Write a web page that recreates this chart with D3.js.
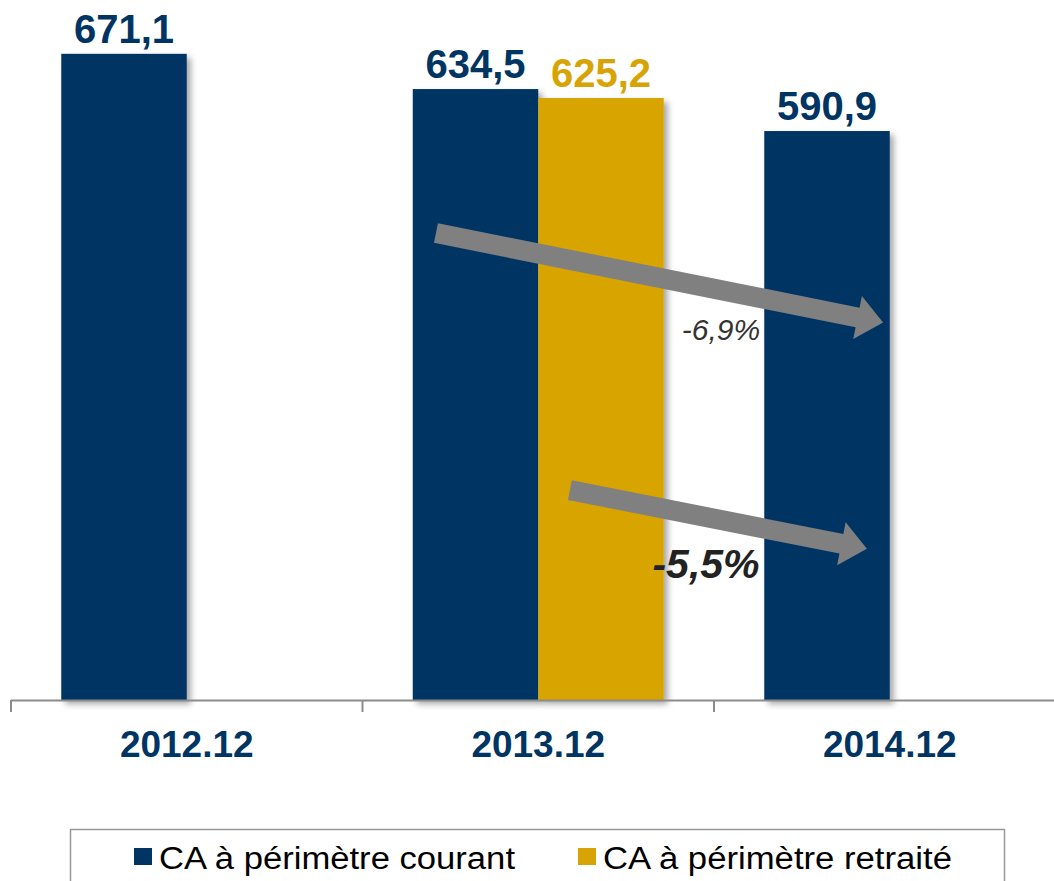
<!DOCTYPE html>
<html>
<head>
<meta charset="utf-8">
<script src="https://cdnjs.cloudflare.com/ajax/libs/d3/7.8.5/d3.min.js"></script>
<style>
  html, body { margin: 0; padding: 0; background: #fff; }
  svg { display: block; font-family: "Liberation Sans", Arial, sans-serif; }
</style>
</head>
<body>
<div id="chart"></div>
<script>
"use strict";

// data
var categories = ["2012.12", "2013.12", "2014.12"],
  seriesNames = ["CA à périmètre courant", "CA à périmètre retraité"],
  courant = [671.1, 634.5, 590.9],
  retraite = [null, 625.2, null],
  valueLabels = [["671,1", "634,5", "590,9"], [null, "625,2", null]]
;

// trend arrows, in (category index, value) units
var arrowStarts = [[1.209, 485], [1.59, 218]],
  arrowEnds = [[2.481, 392], [2.435, 157]],
  arrowLabels = ["-6,9%", "-5,5%"]
;

var width = 1054, height = 881,
  navy = "#003463", gold = "#d8a405",
  colors = [navy, gold]
;

var svg = d3.select("#chart").append("svg")
  .attr("width", width)
  .attr("height", height);

let defs = svg.append("defs");
let f = defs.append("filter").attr("id", "shadow")
  .attr("x", "-10%").attr("y", "-10%").attr("width", "130%").attr("height", "130%");
f.append("feDropShadow")
  .attr("dx", 4).attr("dy", 4).attr("stdDeviation", 3)
  .attr("flood-color", "#000").attr("flood-opacity", 0.35);

let x0 = d3.scaleBand().domain(categories).range([11, 1065.5])
    .paddingInner(0.286).paddingOuter(0.143),
  x1 = d3.scaleBand().domain([0, 1]).range([0, x0.bandwidth()]),
  y = d3.scaleLinear().domain([0, 700]).range([700, 26]),
  xi = d3.scaleLinear().domain([0, 3]).range([11, 1065.5])
;

let rows = categories.map(function(c, i) {
  return { cat: c, vals: [courant[i], retraite[i]], labels: [valueLabels[0][i], valueLabels[1][i]] };
});

// bars
let groups = svg.selectAll(".grp")
  .data(rows)
  .enter().append("g")
  .attr("class", "grp")
  .attr("transform", function(d) { return "translate(" + x0(d.cat) + ",0)"; });

groups.selectAll("rect")
  .data(function(d) { return d.vals.map(function(v, k) { return { k: k, v: v }; }).filter(function(e) { return e.v != null; }); })
  .enter().append("rect")
  .attr("x", function(d) { return x1(d.k); })
  .attr("y", function(d) { return y(d.v); })
  .attr("width", x1.bandwidth())
  .attr("height", function(d) { return y(0) - y(d.v); })
  .attr("fill", function(d) { return colors[d.k]; })
  .attr("filter", "url(#shadow)");

// value labels
groups.selectAll("text")
  .data(function(d) { return d.vals.map(function(v, k) { return { k: k, v: v, t: d.labels[k] }; }).filter(function(e) { return e.v != null; }); })
  .enter().append("text")
  .attr("x", function(d) { return x1(d.k) + x1.bandwidth() / 2; })
  .attr("y", function(d) { return y(d.v) - 11; })
  .attr("text-anchor", "middle")
  .attr("font-size", 40)
  .attr("font-weight", "bold")
  .attr("fill", function(d) { return colors[d.k]; })
  .text(function(d) { return d.t; });

// axis
let axis = svg.append("g").attr("class", "axis");
axis.append("line")
  .attr("x1", xi(0)).attr("x2", width)
  .attr("y1", y(0) + 0.5).attr("y2", y(0) + 0.5)
  .attr("stroke", "#8c8c8c").attr("stroke-width", 2);
axis.selectAll(".tick")
  .data(d3.range(categories.length + 1))
  .enter().append("line")
  .attr("x1", function(i) { return xi(i); })
  .attr("x2", function(i) { return xi(i); })
  .attr("y1", y(0)).attr("y2", y(0) + 12)
  .attr("stroke", "#8c8c8c").attr("stroke-width", 2);
axis.selectAll(".lbl")
  .data(categories)
  .enter().append("text")
  .attr("x", function(c) { return x0(c) + x0.bandwidth() / 2; })
  .attr("y", 757)
  .attr("text-anchor", "middle")
  .attr("font-size", 37)
  .attr("font-weight", "bold")
  .attr("fill", navy)
  .text(function(c) { return c; });

// arrows
function arrowPath(s, e) {
  let ax = xi(s[0]), ay = y(s[1]), bx = xi(e[0]), by = y(e[1]),
    len = Math.hypot(bx - ax, by - ay),
    ang = Math.atan2(by - ay, bx - ax) * 180 / Math.PI,
    hw = 10, headL = 26, headW = 22
  ;
  let p = d3.path();
  p.moveTo(0, -hw);
  p.lineTo(len - headL, -hw);
  p.lineTo(len - headL, -headW);
  p.lineTo(len, 0);
  p.lineTo(len - headL, headW);
  p.lineTo(len - headL, hw);
  p.lineTo(0, hw);
  p.closePath();
  return { d: p.toString(), t: "translate(" + ax + "," + ay + ") rotate(" + ang + ")" };
}

arrowStarts.forEach(function(s, i) {
  let a = arrowPath(s, arrowEnds[i]);
  svg.append("path")
    .attr("d", a.d)
    .attr("transform", a.t)
    .attr("fill", "#808080");
});

svg.append("text")
  .attr("x", 721).attr("y", 340)
  .attr("text-anchor", "middle")
  .attr("font-size", 30)
  .attr("font-style", "italic")
  .attr("fill", "#333")
  .text(arrowLabels[0]);

svg.append("text")
  .attr("x", 706).attr("y", 578)
  .attr("text-anchor", "middle")
  .attr("font-size", 41)
  .attr("font-style", "italic")
  .attr("font-weight", "bold")
  .attr("fill", "#222")
  .text(arrowLabels[1]);

// legend
let legend = svg.append("g").attr("class", "legend");
legend.append("rect")
  .attr("x", 70.5).attr("y", 829.5)
  .attr("width", 934).attr("height", 80)
  .attr("fill", "none")
  .attr("stroke", "#999").attr("stroke-width", 1.5);

let legendX = [134, 578],
  legendW = [356, 349];
seriesNames.forEach(function(n, i) {
  legend.append("rect")
    .attr("x", legendX[i]).attr("y", 848)
    .attr("width", 18).attr("height", 17)
    .attr("fill", colors[i]);
  legend.append("text")
    .attr("x", legendX[i] + 25).attr("y", 869)
    .attr("font-size", 31)
    .attr("fill", "#000")
    .attr("textLength", legendW[i])
    .attr("lengthAdjust", "spacingAndGlyphs")
    .text(n);
});
</script>
</body>
</html>
